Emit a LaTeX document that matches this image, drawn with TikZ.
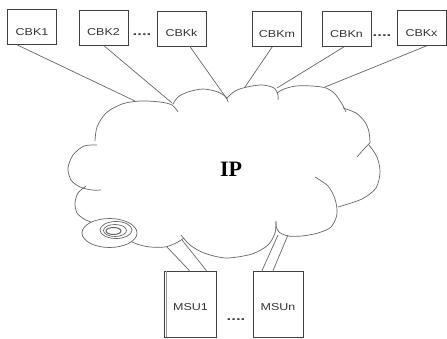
\documentclass[tikz,border=0pt]{standalone}
\usepackage{fontspec}
\setmainfont{Liberation Serif}
\setsansfont{Liberation Sans}
\newcommand\hstretch[1]{\scalebox{1.25}[1]{#1}}
\begin{document}
\begin{tikzpicture}[x=1pt,y=-1pt,
  ln/.style={draw=black!60, line width=0.7pt},
  cl/.style={draw=black!60, line width=0.7pt, line join=round},
  cbox/.style={draw=black!75, line width=0.7pt, fill=white, minimum width=49pt,
    minimum height=35pt, inner sep=0pt, font=\sffamily\fontsize{10}{10}\selectfont,
    text=black!80, text height=17pt, text depth=0pt},
  mbox/.style={cbox, minimum height=66pt, text height=12pt},
  dots/.style={font=\sffamily\bfseries\fontsize{12}{12}\selectfont, text=black!75, inner sep=0pt}
]
\fill[white] (0,0) rectangle (447,339);
\useasboundingbox (0,0) rectangle (447,339);

% top boxes
\node[cbox] (cbk1) at (32,27) {\hstretch{CBK1}};
\node[cbox] (cbk2) at (103.5,27.5) {\hstretch{CBK2}};
\node[cbox] (cbkk) at (181.5,28.5) {\hstretch{CBKk}};
\node[cbox] (cbkm) at (277,29) {\hstretch{CBKm}};
\node[cbox] (cbkn) at (346.5,29) {\hstretch{CBKn}};
\node[cbox] (cbkx) at (421.5,28) {\hstretch{CBKx}};
\node[dots] (d1) at (142,35) {\scalebox{1.4}[1]{....}};
\node[dots] (d2) at (382,36) {\scalebox{1.4}[1]{....}};

% bottom boxes
\node[mbox, minimum width=52pt] (msu1) at (190.5,304) {\hstretch{MSU1}};
\node[mbox, minimum width=50pt] (msun) at (278,304) {\hstretch{MSUn}};
\draw[draw=black!40, line width=0.7pt] ([xshift=2.5pt]msu1.north west) -- ([xshift=2.5pt]msu1.south west);
\node[dots] (d3) at (236,320) {\scalebox{1.4}[1]{....}};

% cloud
\draw[cl] plot[smooth] coordinates {(95,141) (97,127) (106,113) (122,104) (140,101) (160,102) (172,105) (178,112)};
\draw[cl] plot[smooth] coordinates {(173,104) (178,97) (188,92) (203,89) (218,92) (226,97) (228,102)};
\draw[cl] plot[smooth] coordinates {(226,99) (235,91) (247,87) (262,85) (274,88) (278,95) (278,100)};
\draw[cl] plot[smooth] coordinates {(277,93) (284,89) (296,86) (312,86) (326,88) (335,94) (342,104) (346,112)};
\draw[cl] plot[smooth] coordinates {(343,108) (356,113) (365,122) (369,132) (370,143)};
\draw[cl] plot[smooth] coordinates {(370,143) (364,149) (357,157)};
\draw[cl] plot[smooth] coordinates {(369,145) (377,157) (380,172) (376,188) (362,199) (338,207)};
\draw[cl] plot[smooth] coordinates {(315,177) (328,186) (335,199) (337,214) (331,227) (318,233) (302,236) (288,236) (279,232) (276,226) (276,221)};
\draw[cl] plot[smooth] coordinates {(276,222) (275,233) (268,245) (252,254) (226,258) (204,253) (190,245) (181,235)};
\draw[cl] plot[smooth] coordinates {(132,242) (140,245) (150,247) (165,247) (176,243) (184,238)};
\draw[cl] plot[smooth] coordinates {(86,186) (78,193) (75,203) (77,213) (84,219) (91,222)};
\draw[cl] plot[smooth] coordinates {(97,145) (84,146) (73,155) (68,168) (71,180) (80,187) (92,190) (101,190)};
\draw[cl] (109.5,233) ellipse [x radius=27.5pt, y radius=14.5pt];
\draw[cl] (116,230) ellipse [x radius=16pt, y radius=8.5pt];
\draw[cl] (115,230.5) ellipse [x radius=11.5pt, y radius=6pt];
\draw[cl, line width=1pt] (113.5,231) ellipse [x radius=7.5pt, y radius=3.5pt];

\node[font=\bfseries\fontsize{22}{22}\selectfont, inner sep=0pt] (ip) at (231,169) {IP};

% attachment points on the cloud
\coordinate (t1) at (135,101);
\coordinate (t2) at (172,103);
\coordinate (t3) at (227,99);
\coordinate (t4) at (245,87);
\coordinate (t5) at (277,88);
\coordinate (t6) at (325,87);
\coordinate (b1) at (167,247);
\coordinate (b2) at (182,240);
\coordinate (b3) at (278,235);
\coordinate (b4) at (288,235);

% connectors
\draw[ln] (cbk1.230) -- (t1);
\draw[ln] (cbk2.270) -- (t2);
\draw[ln] (cbkk.295) -- (t3);
\draw[ln] (cbkm.255) -- (t4);
\draw[ln] (cbkn.262) -- (t5);
\draw[ln] (cbkx.286) -- (t6);
\draw[ln] ([xshift=-1pt]msu1.north) -- (b1);
\draw[ln] ([xshift=16pt]msu1.north) -- (b2);
\draw[ln] ([xshift=-16pt]msun.north) -- (b3);
\draw[ln] ([xshift=-5pt]msun.north) -- (b4);
\end{tikzpicture}
\end{document}
